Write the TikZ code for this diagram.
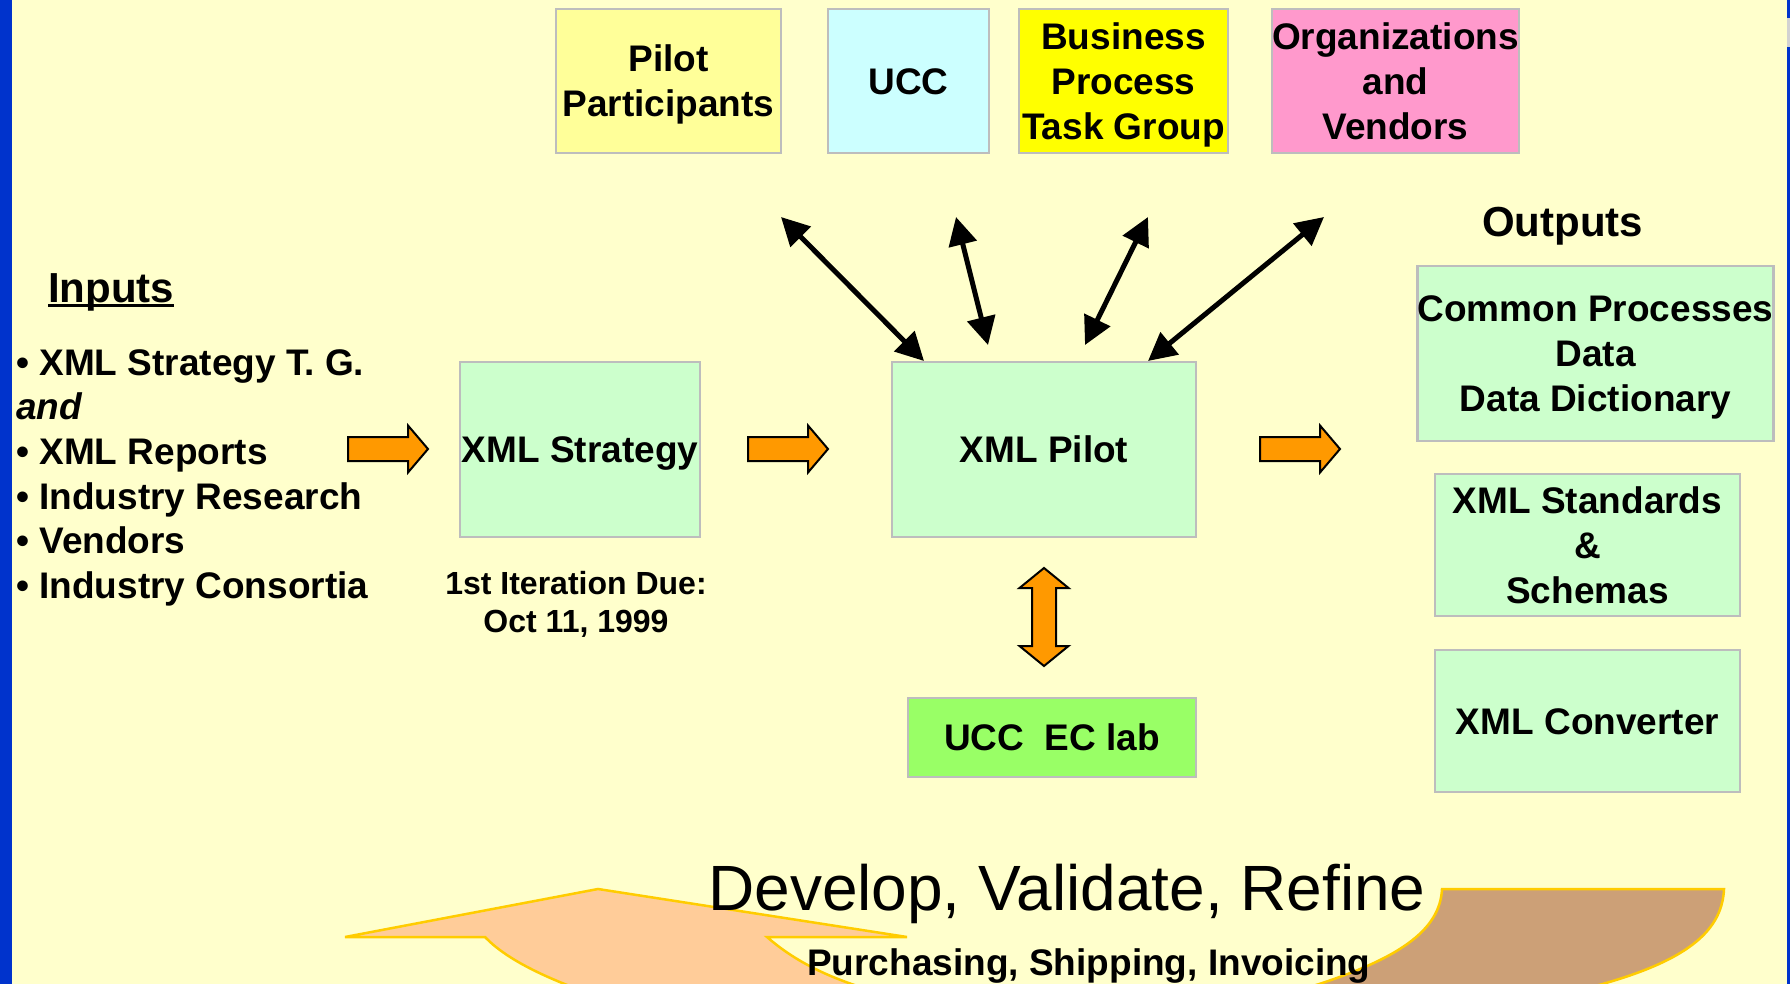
\documentclass[tikz,border=0pt]{standalone}
\usepackage{fontspec}
\setmainfont{Liberation Sans}
\usetikzlibrary{arrows.meta}
\definecolor{bgc}{HTML}{FFFFCC}
\definecolor{bluec}{HTML}{0033CC}
\definecolor{boxgray}{HTML}{BDBDBD}
\definecolor{pilotc}{HTML}{FFFF99}
\definecolor{uccc}{HTML}{CCFFFF}
\definecolor{busc}{HTML}{FFFF00}
\definecolor{orgc}{HTML}{FF99CC}
\definecolor{greenc}{HTML}{CCFFCC}
\definecolor{labc}{HTML}{99FF66}
\definecolor{orangec}{HTML}{FF9900}
\definecolor{peachc}{HTML}{FFCC99}
\definecolor{tanc}{HTML}{CCA077}
\definecolor{edgeyel}{HTML}{FFCC00}
\newcommand\bxfont{\fontsize{37}{45}\selectfont\bfseries}
\newcommand\lstfont{\fontsize{37}{44.6}\selectfont\bfseries}
\newcommand\duefont{\fontsize{32}{38}\selectfont\bfseries}
\newcommand\headfont{\fontsize{42}{50}\selectfont\bfseries}
\newcommand\bigfont{\fontsize{64}{76}\selectfont}
\newcommand\Ls{\rule[-9pt]{0pt}{44.5pt}}
\newcommand\Ds{\rule[-7pt]{0pt}{37.9pt}}
\tikzset{
  boxst/.style={draw=boxgray, line width=2.5pt, inner sep=0pt, align=center, font=\bxfont},
  txt/.style={inner sep=0pt},
  blk/.style={line width=5pt, {Triangle[length=28pt,width=28pt]}-{Triangle[length=28pt,width=28pt]}},
  barrow/.pic={\draw[fill=orangec, line width=2pt, line join=miter]
     (0,-12) -- (60,-12) -- (60,-23.5) -- (80,0) -- (60,23.5) -- (60,12) -- (0,12) -- cycle;},
  vbarrow/.pic={\draw[fill=orangec, line width=2pt, line join=miter]
     (0,-49) -- (24.5,-29) -- (12,-29) -- (12,29) -- (24.5,29) -- (0,49)
     -- (-24.5,29) -- (-12,29) -- (-12,-29) -- (-24.5,-29) -- cycle;},
  bandst/.style={draw=edgeyel, line width=2.5pt, line join=miter}
}
\begin{document}
\begin{tikzpicture}[x=1pt,y=-1pt]
\useasboundingbox (0,0) rectangle (1790,984);
\clip (0,0) rectangle (1790,984);
\fill[bgc] (0,0) rectangle (1790,984);
\fill[bluec] (0,0) rectangle (12,984);
\fill[bluec] (1787,0) rectangle (1790,984);
\fill[gray!35] (1787,18) rectangle (1790,47);

% bottom curved arrow
\draw[bandst, fill=tanc] (1442,889) -- (1724,889) .. controls (1722,935) and (1680,965) .. (1580,990)
   -- (1300,990) .. controls (1400,960) and (1440,930) .. (1442,889) -- cycle;
\draw[bandst, fill=peachc] (485,937) -- (345,937) -- (598,889) -- (907,937) -- (767,937)
   .. controls (790,957) and (820,975) .. (870,990) -- (580,990)
   .. controls (540,975) and (505,958) .. (485,937) -- cycle;

% top boxes
\node[boxst, fill=pilotc, minimum width=225pt, minimum height=144pt] (pilot) at (668.5,81) {\Ls Pilot\\\Ls Participants};
\node[boxst, fill=uccc, minimum width=161pt, minimum height=144pt] (ucc) at (908.5,81) {\Ls UCC};
\node[boxst, fill=busc, minimum width=209pt, minimum height=144pt] (bus) at (1123.5,81) {\Ls Business\\\Ls Process\\\Ls Task Group};
\node[boxst, fill=orgc, minimum width=241pt, minimum height=144pt] (org) at (1395.5,81) {\Ls Organizations\\\Ls and\\\Ls Vendors};

% middle row
\node[boxst, fill=greenc, minimum width=240pt, minimum height=175pt] (strat) at (580,449.5) {\Ls XML Strategy};
\node[boxst, fill=greenc, minimum width=304pt, minimum height=175pt] (pilotx) at (1044,449.5) {\Ls XML Pilot};
\node[boxst, fill=labc, minimum width=288pt, minimum height=79pt] (lab) at (1052,737.5) {\Ls UCC\ \ EC lab};

% outputs
\node[boxst, fill=greenc, minimum width=353pt, minimum height=175pt] (common) at (1595.5,353.5) {\Ls Common Processes\\\Ls Data\\\Ls Data Dictionary};
\node[boxst, fill=greenc, minimum width=305pt, minimum height=142pt] (std) at (1587.5,545) {\Ls XML Standards\\\Ls \&\\\Ls Schemas};
\node[boxst, fill=greenc, minimum width=305pt, minimum height=142pt] (conv) at (1587.5,721) {\Ls XML Converter};

% headings and texts
\node[txt, anchor=base west, font=\headfont] (inputs) at (48,302) {Inputs};
\draw[line width=3pt] ([yshift=-3pt]inputs.base west) -- ([yshift=-3pt]inputs.base east);
\node[txt, anchor=base west, font=\headfont] (outputs) at (1482,237) {Outputs};
\node[txt, anchor=north west, align=left, font=\lstfont] (inlist) at (16,339.5)
  {\Ls\textbullet{} XML Strategy T. G.\\\Ls\textit{and}\\\Ls\textbullet{} XML Reports\\\Ls\textbullet{} Industry Research\\\Ls\textbullet{} Vendors\\\Ls\textbullet{} Industry Consortia};
\node[txt, anchor=north, align=center, font=\duefont] (due) at (576,563.1) {\Ds 1st Iteration Due:\\\Ds Oct 11, 1999};

% orange block arrows
\pic at (348,449) {barrow};
\pic at (748,449) {barrow};
\pic at (1260,449) {barrow};
\pic at (1044,617) {vbarrow};

% black double arrows
\coordinate (a1) at (781,217); \coordinate (a2) at (924,361);
\coordinate (b1) at (956,217); \coordinate (b2) at (988,345);
\coordinate (c1) at (1148,217); \coordinate (c2) at (1085,345);
\coordinate (d1) at (1324,217); \coordinate (d2) at (1148,361);
\draw[blk] (a1) -- (a2);
\draw[blk] (b1) -- (b2);
\draw[blk] (c1) -- (c2);
\draw[blk] (d1) -- (d2);

% bottom texts
\node[txt, anchor=base west, font=\bigfont] (dvr) at (708,910) {Develop, Validate, Refine};
\node[txt, anchor=base west, font=\bxfont] (psi) at (807,975) {Purchasing, Shipping, Invoicing};
\end{tikzpicture}
\end{document}
